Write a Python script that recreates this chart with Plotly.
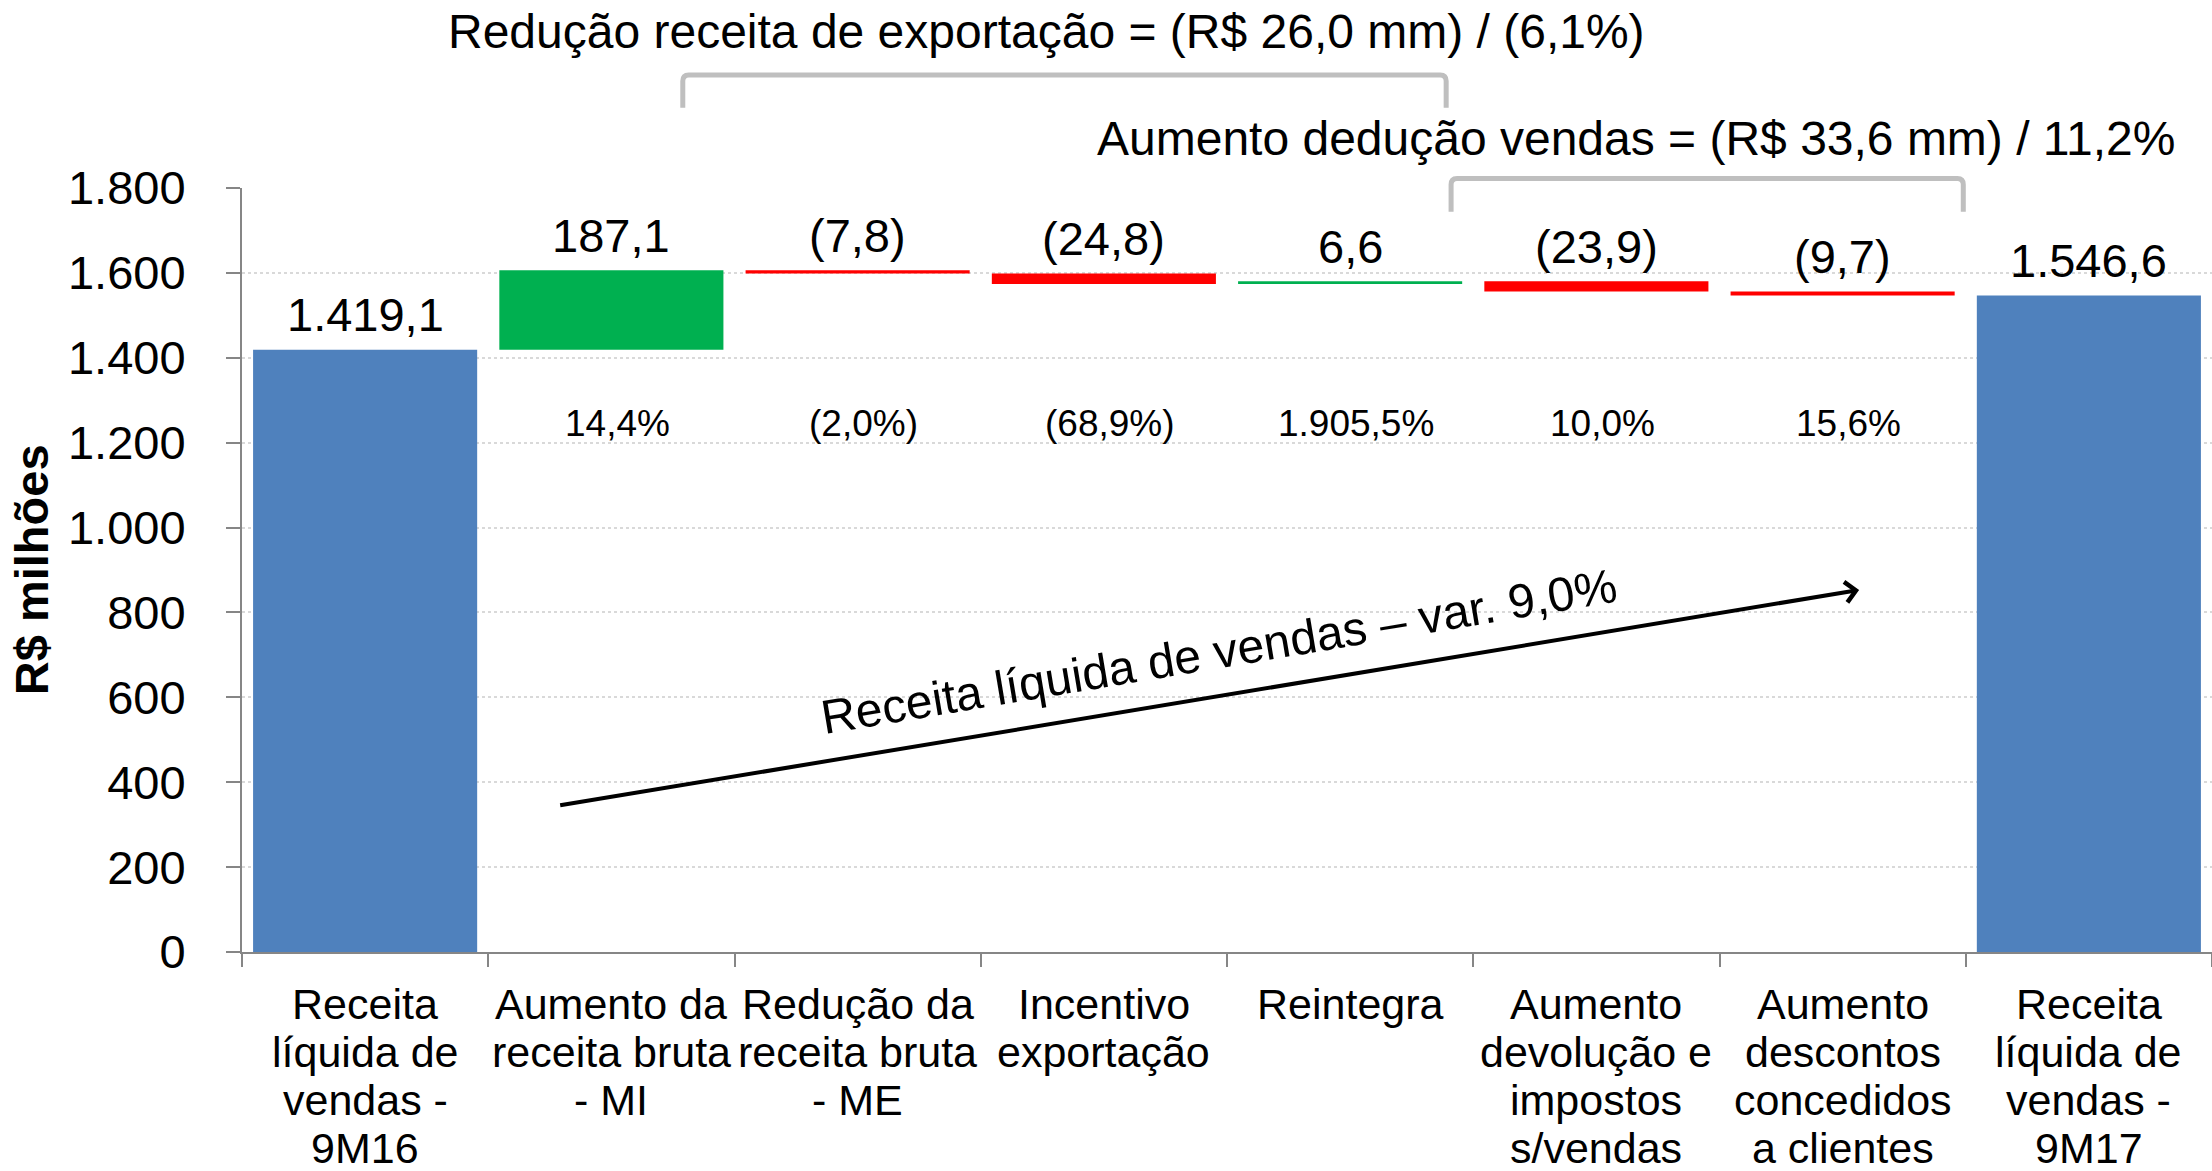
import plotly.graph_objects as go

# ---- data ----
categories = [
    "Receita<br>líquida de<br>vendas -<br>9M16",
    "Aumento da<br>receita bruta<br>- MI",
    "Redução da<br>receita bruta<br>- ME",
    "Incentivo<br>exportação",
    "Reintegra",
    "Aumento<br>devolução e<br>impostos<br>s/vendas",
    "Aumento<br>descontos<br>concedidos<br>a clientes",
    "Receita<br>líquida de<br>vendas -<br>9M17",
]
measures = ["absolute", "relative", "relative", "relative", "relative", "relative", "relative", "total"]
values = [1419.1, 187.1, -7.8, -24.8, 6.6, -23.9, -9.7, 1546.6]
value_labels = ["1.419,1", "187,1", "(7,8)", "(24,8)", "6,6", "(23,9)", "(9,7)", "1.546,6"]
pct_labels = ["", "14,4%", "(2,0%)", "(68,9%)", "1.905,5%", "10,0%", "15,6%", ""]
y_ticks = [0, 200, 400, 600, 800, 1000, 1200, 1400, 1600, 1800]

title_export = "Redução receita de exportação = (R$ 26,0 mm) / (6,1%)"
title_deduction = "Aumento dedução vendas = (R$ 33,6 mm) / 11,2%"
trend_label = "Receita líquida de vendas – var. 9,0%"
y_title = "R$ milhões"

# ---- style ----
BLUE = "#4F81BD"
GREEN = "#00B050"
RED = "#FF0000"
AXIS = "#868686"
GRID = "#D9D9D9"
BRACKET = "#BFBFBF"
FONT = "Liberation Sans, Arial, sans-serif"

# top of every bar, used to place the value labels
tops = []
running = 0
for m, v in zip(measures, values):
    if m == "absolute":
        running = v
        tops.append(v)
    elif m == "total":
        tops.append(running)
    else:
        tops.append(max(running, running + v))
        running += v

fig = go.Figure(
    go.Waterfall(
        x=categories,
        y=values,
        measure=measures,
        increasing={"marker": {"color": GREEN, "line": {"width": 0}}},
        decreasing={"marker": {"color": RED, "line": {"width": 0}}},
        totals={"marker": {"color": BLUE, "line": {"width": 0}}},
        connector={"visible": False},
        hoverinfo="skip",
    )
)

annotations = []

# value labels above the bars
for cat, top, lab in zip(categories, tops, value_labels):
    annotations.append(dict(x=cat, y=top, xref="x", yref="y", text=lab, showarrow=False,
                            yanchor="middle", yshift=35, font=dict(size=47)))

# percentage labels
for cat, lab in zip(categories, pct_labels):
    if lab:
        annotations.append(dict(x=cat, y=1246, xref="x", yref="y", text=lab, showarrow=False,
                                yanchor="middle", xshift=6, font=dict(size=37)))

# category labels, one line each (tighter spacing than plotly's default)
for cat in categories:
    for i, line in enumerate(cat.split("<br>")):
        annotations.append(dict(x=cat, y=0, xref="x", yref="paper", text=line, showarrow=False,
                                yanchor="middle", yshift=-52 - 48 * i, font=dict(size=43)))

# y title
annotations.append(dict(x=-0.107, y=0.5, xref="paper", yref="paper", text=f"<b>{y_title}</b>",
                        textangle=-90, showarrow=False, xanchor="center", yanchor="middle",
                        font=dict(size=47)))

# headers over the brackets
annotations.append(dict(x=0.4086, y=1.205, xref="paper", yref="paper", text=title_export,
                        showarrow=False, xanchor="center", yanchor="middle", font=dict(size=48)))
annotations.append(dict(x=0.7076, y=1.065, xref="paper", yref="paper", text=title_deduction,
                        showarrow=False, xanchor="center", yanchor="middle", font=dict(size=48)))

# trend arrow and its label
annotations.append(dict(x=6.067, y=853, ax=0.786, ay=345, xref="x", yref="y", axref="x", ayref="y",
                        text="", showarrow=True, arrowhead=4, arrowsize=1, arrowwidth=4,
                        arrowcolor="black"))
annotations.append(dict(x=3.467, y=707, xref="x", yref="y", text=trend_label, showarrow=False,
                        textangle=-9.5, xanchor="center", yanchor="middle", font=dict(size=48)))


def bracket(x0, x1, y_top, y_bot, rx=0.003, ry=0.008):
    # x in category index units, y in paper units, slightly rounded corners
    n = len(categories)
    p0 = (x0 + 0.5) / n
    p1 = (x1 + 0.5) / n
    path = (f"M{p0},{y_bot} L{p0},{y_top - ry} Q{p0},{y_top} {p0 + rx},{y_top} "
            f"L{p1 - rx},{y_top} Q{p1},{y_top} {p1},{y_top - ry} L{p1},{y_bot}")
    return dict(type="path", xref="paper", yref="paper", path=path,
                line=dict(color=BRACKET, width=5))


shapes = [
    bracket(1.29, 4.39, 1.148, 1.105),
    bracket(4.41, 6.49, 1.0125, 0.969),
]

fig.update_layout(
    width=2212,
    height=1171,
    margin=dict(l=242, r=0, t=188, b=219),
    paper_bgcolor="white",
    plot_bgcolor="white",
    font=dict(family=FONT, color="black"),
    separators=",.",
    showlegend=False,
    waterfallgap=0.09,
    annotations=annotations,
    shapes=shapes,
)
fig.update_xaxes(
    type="category",
    range=[-0.5, 7.5],
    showticklabels=False,
    tickson="boundaries",
    ticks="outside",
    ticklen=13,
    tickwidth=2,
    tickcolor=AXIS,
    showline=True,
    linecolor=AXIS,
    linewidth=2,
    showgrid=False,
)
fig.update_yaxes(
    range=[0, 1800],
    tickvals=y_ticks,
    tickformat=",d",
    tickfont=dict(size=47),
    ticks="outside",
    ticklen=14,
    tickwidth=2,
    tickcolor=AXIS,
    ticklabelstandoff=31,
    showline=True,
    linecolor=AXIS,
    linewidth=2,
    showgrid=True,
    gridcolor=GRID,
    griddash="dot",
    gridwidth=2,
    zeroline=False,
)

fig.write_html(
    "out.html",
    config={"displayModeBar": False},
    post_script="document.body.style.margin='0';document.body.style.overflow='hidden';",
)
